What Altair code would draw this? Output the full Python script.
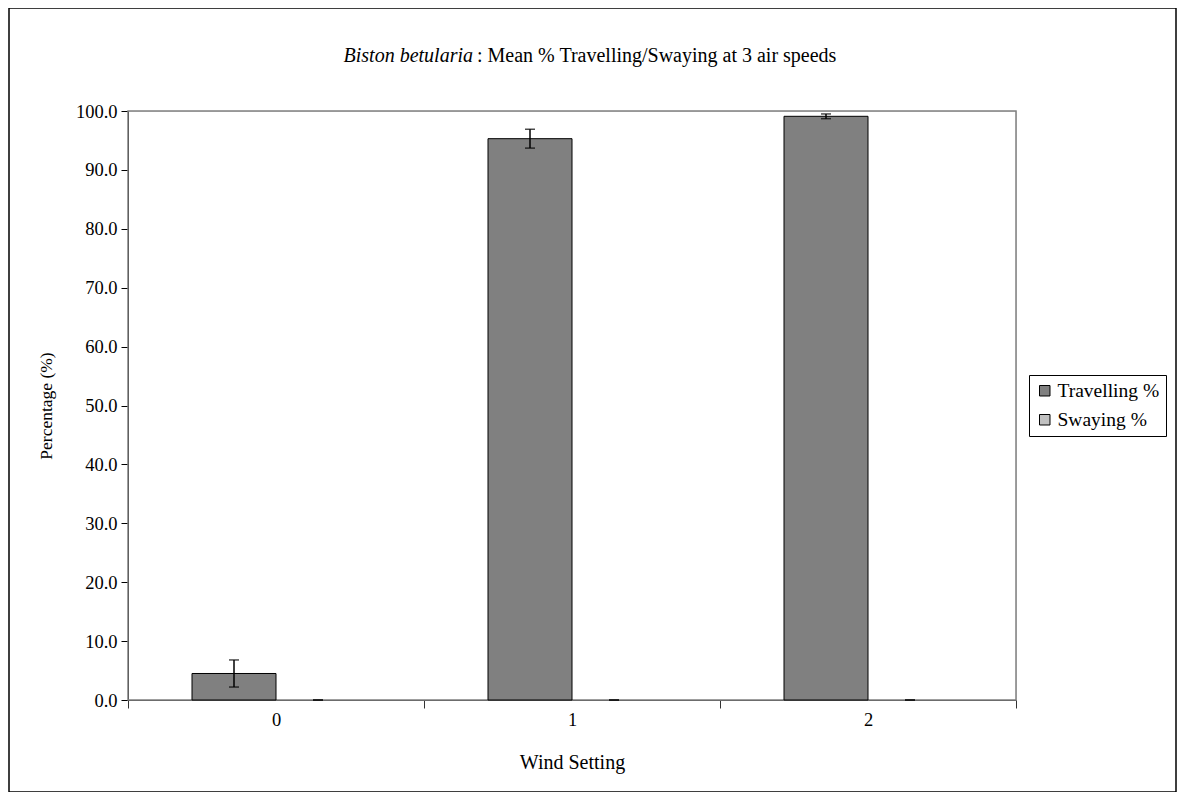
import altair as alt
import pandas as pd

categories = ["0", "1", "2"]
series_names = ["Travelling %", "Swaying %"]
travelling = [4.5, 95.3, 99.1]
travelling_err = [2.3, 1.6, 0.4]
swaying = [0.0, 0.0, 0.0]
swaying_err = [0.0, 0.0, 0.0]
series_colors = ["#808080", "#C0C0C0"]

rows = []
for i, c in enumerate(categories):
    for s, vals, errs in [(series_names[0], travelling, travelling_err),
                          (series_names[1], swaying, swaying_err)]:
        rows.append({"cat": c, "series": s, "value": vals[i],
                     "lo": vals[i] - errs[i], "hi": vals[i] + errs[i]})
df = pd.DataFrame(rows)
one = pd.DataFrame({"a": [0]})

FONT = "Liberation Serif"
W, H = 888, 589

x_enc = alt.X("cat:N", sort=categories,
              scale=alt.Scale(paddingInner=0, paddingOuter=0),
              axis=alt.Axis(title="Wind Setting", labelAngle=0, tickBand="extent",
                            tickSize=8, tickColor="#333333", domainColor="#333333",
                            labelFont=FONT, labelFontSize=18.5, labelColor="black",
                            labelPadding=2, titleFont=FONT, titleFontSize=20,
                            titleFontWeight="normal", titleColor="black",
                            titlePadding=24))
xo_enc = alt.XOffset("series:N", sort=series_names,
                     scale=alt.Scale(domain=series_names, paddingOuter=0.762, paddingInner=0))
y_scale = alt.Scale(domain=[0, 100], nice=False, zero=True)

frame = alt.Chart(one).mark_rect(fill=None, stroke="#808080", strokeWidth=1.5).encode(
    x=alt.value(0), x2=alt.value(W), y=alt.value(0), y2=alt.value(H))

bars = alt.Chart(df).mark_bar(stroke="black").encode(
    x=x_enc,
    xOffset=xo_enc,
    y=alt.Y("value:Q", scale=y_scale,
            axis=alt.Axis(title="Percentage (%)", values=[0, 10, 20, 30, 40, 50, 60, 70, 80, 90, 100],
                          format=".1f", grid=False, tickSize=7, tickColor="black",
                          domainColor="black", labelFont=FONT, labelFontSize=18.5,
                          labelColor="black", labelPadding=4, titleFont=FONT,
                          titleFontSize=17.5, titleFontWeight="normal", titleColor="black",
                          titlePadding=20)),
    strokeWidth=alt.condition("datum.value > 0", alt.value(1), alt.value(0)),
    color=alt.Color("series:N", sort=series_names,
                    scale=alt.Scale(domain=series_names, range=series_colors),
                    legend=alt.Legend(title=None, orient="none", legendX=901, legendY=264,
                                      strokeColor="black", padding=6, labelFont=FONT,
                                      labelFontSize=19.5, labelColor="black",
                                      symbolType="square", symbolSize=110,
                                      symbolStrokeColor="black", symbolStrokeWidth=1,
                                      rowPadding=8, labelOffset=3)),
)

err = alt.Chart(df).mark_rule(color="black", strokeWidth=1.5).encode(
    x=alt.X("cat:N", sort=categories),
    xOffset=alt.XOffset("series:N", sort=series_names),
    y=alt.Y("lo:Q", scale=y_scale),
    y2="hi:Q",
)
cap_hi = alt.Chart(df).mark_tick(color="black", thickness=1.5, size=10, orient="horizontal").encode(
    x=alt.X("cat:N", sort=categories),
    xOffset=alt.XOffset("series:N", sort=series_names),
    y=alt.Y("hi:Q", scale=y_scale),
)
cap_lo = alt.Chart(df).mark_tick(color="black", thickness=1.5, size=10, orient="horizontal").encode(
    x=alt.X("cat:N", sort=categories),
    xOffset=alt.XOffset("series:N", sort=series_names),
    y=alt.Y("lo:Q", scale=y_scale),
)

title_it = alt.Chart(one).mark_text(font=FONT, fontSize=20, fontStyle="italic", align="right",
                                     baseline="middle", color="black").encode(
    x=alt.value(345), y=alt.value(-55), text=alt.value("Biston betularia"))
title_rest = alt.Chart(one).mark_text(font=FONT, fontSize=20, align="left",
                                       baseline="middle", color="black").encode(
    x=alt.value(349), y=alt.value(-55),
    text=alt.value(": Mean % Travelling/Swaying at 3 air speeds"))

border = alt.Chart(one).mark_rect(fill=None, stroke="black", strokeWidth=1.5).encode(
    x=alt.value(-119), x2=alt.value(1048), y=alt.value(-103), y2=alt.value(681))

chart = alt.layer(frame, bars, err, cap_hi, cap_lo, title_it, title_rest, border).properties(
    width=W, height=H,
    autosize=alt.AutoSizeParams(type="none"),
    padding={"left": 120, "top": 103, "right": 161, "bottom": 92},
).configure_view(strokeWidth=0).configure(background="white")

chart.save("out.html", embed_options={"renderer": "svg", "actions": False})
